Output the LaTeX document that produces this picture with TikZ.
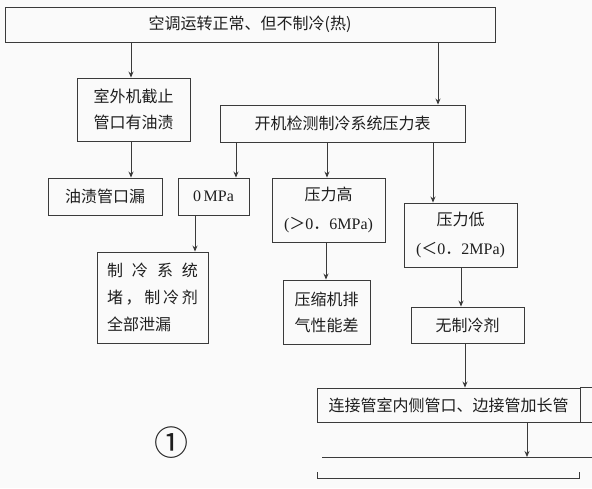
\documentclass[tikz,border=0pt]{standalone}
\usepackage{fontspec}
\setmainfont{Liberation Serif}
\newfontfamily\zhfont{Noto Sans CJK SC}
\usetikzlibrary{arrows.meta}
\definecolor{linec}{HTML}{3A3A3A}
\definecolor{textc}{HTML}{1E1E1E}
\definecolor{bgc}{HTML}{FAFAFA}
\newcommand\lt[1]{{\rmfamily #1}}
\begin{document}
\begin{tikzpicture}[x=1pt,y=-1pt,
  box/.style={draw=linec, line width=0.9pt, inner sep=0pt, align=center, text=textc,
    font=\zhfont\fontsize{16}{26}\selectfont},
  lhwide/.style={font=\zhfont\fontsize{16}{29}\selectfont},
  lhmid/.style={font=\zhfont\fontsize{16}{27}\selectfont},
  conn/.style={draw=linec, line width=0.9pt},
  arr/.style={draw=linec, line width=0.9pt, -{Stealth[length=6pt,width=5pt]}},
]
\fill[bgc] (0,0) rectangle (592,488);
\useasboundingbox (0,0) rectangle (592,488);

\node[box, minimum width=490pt, minimum height=35pt] (top) at (250,24.5) {空调运转正常、但不制冷(热)};
\node[box, minimum width=113pt, minimum height=63pt] (sw) at (133.5,109.5) {室外机截止\\管口有油渍};
\node[box, minimum width=245pt, minimum height=37pt] (kj) at (342.5,123.5) {开机检测制冷系统压力表};
\node[box, minimum width=114pt, minimum height=37pt] (yz) at (105,196.5) {油渍管口漏};
\node[box, minimum width=71pt, minimum height=37pt] (om) at (213.5,196.5) {\lt{0\,MPa}};
\node[box, lhwide, minimum width=113pt, minimum height=64pt] (gy) at (328.5,210) {压力高\\\lt{(}＞\lt{0}．\lt{6MPa)}};
\node[box, lhwide, minimum width=113pt, minimum height=64pt] (dy) at (460.5,235) {压力低\\\lt{(}＜\lt{0}．\lt{2MPa)}};
\node[box, lhmid, align=left, minimum width=111pt, minimum height=91pt] (zl) at (152.5,297.5)
  {\makebox[91pt][s]{制\hfill{}冷\hfill{}系\hfill{}统}\\\makebox[91pt][s]{堵\hfill{}，\hfill{}制\hfill{}冷\hfill{}剂}\\全部泄漏};
\node[box, minimum width=87pt, minimum height=64pt] (ys) at (326.5,312) {压缩机排\\气性能差};
\node[box, minimum width=113pt, minimum height=36pt] (wz) at (467.5,325) {无制冷剂};
\node[box, minimum width=263pt, minimum height=34pt] (lj) at (448.5,405) {连接管室内侧管口、边接管加长管};
\node[font=\zhfont\fontsize{34}{34}\selectfont, text=textc, inner sep=0pt] (num) at (171,443) {①};

% extensions of the cropped boxes at the bottom
\coordinate (ljtr) at (592,0 |- lj.north);
\coordinate (ljbr) at (592,0 |- lj.south);
\draw[conn] (lj.north east) -- (ljtr);
\draw[conn] (lj.south east) -- (ljbr);
\coordinate (l1a) at (322,457);
\coordinate (l1b) at (592,457);
\draw[conn] (l1a) -- (l1b);
\coordinate (tgt) at (527,457);
\coordinate (bra) at (317,472);
\coordinate (brb) at (317,478);
\coordinate (brc) at (579,478);
\coordinate (brd) at (579,472);
\draw[conn] (bra) -- (brb) -- (brc) -- (brd);

% arrow x positions
\coordinate (ax1) at (131,0);
\coordinate (ax2) at (438,0);
\coordinate (ax3) at (236,0);
\coordinate (ax4) at (327,0);
\coordinate (ax5) at (433,0);
\coordinate (ax6) at (195,0);
\coordinate (ax7) at (326,0);
\coordinate (ax8) at (461,0);
\coordinate (ax9) at (465,0);

\draw[arr] (top.south -| ax1) -- (sw.north -| ax1);
\draw[arr] (top.south -| ax2) -- (kj.north -| ax2);
\draw[arr] (sw.south -| ax1) -- (yz.north -| ax1);
\draw[arr] (kj.south -| ax3) -- (om.north -| ax3);
\draw[arr] (kj.south -| ax4) -- (gy.north -| ax4);
\draw[arr] (kj.south -| ax5) -- (dy.north -| ax5);
\draw[arr] (om.south -| ax6) -- (zl.north -| ax6);
\draw[arr] (gy.south -| ax7) -- (ys.north -| ax7);
\draw[arr] (dy.south -| ax8) -- (wz.north -| ax8);
\draw[arr] (wz.south -| ax9) -- (lj.north -| ax9);
\draw[arr] (lj.south -| tgt) -- (tgt);
\end{tikzpicture}
\end{document}
